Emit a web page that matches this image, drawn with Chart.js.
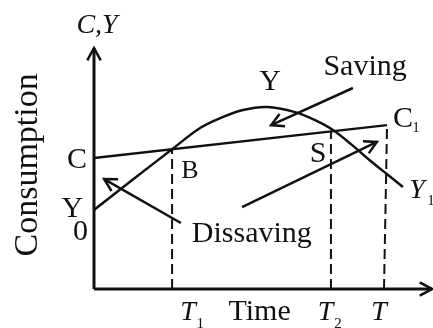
<!DOCTYPE html>
<html lang="en">
<head>
<meta charset="UTF-8">
<title>Consumption and income over time</title>
<script src="https://cdn.jsdelivr.net/npm/chart.js"></script>
<style>
  html, body { margin: 0; padding: 0; background: #fff; }
  canvas { display: block; }
</style>
</head>
<body>
<canvas id="lifeChart" width="433" height="328"></canvas>
<script>
// income curve Y (from Y0 up through B, peak, down to Y1)
const incomeCurve = [
  { x: 0, y: 32.8 }, { x: 11.5, y: 45.4 }, { x: 23.1, y: 58.0 }, { x: 31.4, y: 66.8 },
  { x: 38.2, y: 71.4 }, { x: 44.1, y: 74.3 }, { x: 51.2, y: 75.5 }, { x: 59.5, y: 73.4 },
  { x: 65.4, y: 70.1 }, { x: 70.7, y: 66.0 }, { x: 76.3, y: 59.8 }, { x: 82.2, y: 52.7 },
  { x: 87.0, y: 47.3 }, { x: 91.4, y: 42.3 }
];
// consumption line C -> C1
const consumptionLine = [{ x: 0, y: 54.4 }, { x: 86.7, y: 68.0 }];
// dashed verticals at T1, T2, T
const dropT1 = [{ x: 23.1, y: 0 }, { x: 23.1, y: 58.0 }];
const dropT2 = [{ x: 70.1, y: 0 }, { x: 70.1, y: 65.4 }];
const dropT = [{ x: 85.8, y: 0 }, { x: 86.7, y: 68.0 }];
// arrows: tail then head
const savingArrow = [{ x: 76.6, y: 83.4 }, { x: 52.4, y: 68.0 }];
const dissavingArrow1 = [{ x: 25.7, y: 27.4 }, { x: 3.0, y: 45.6 }];
const dissavingArrow2 = [{ x: 43.8, y: 34.0 }, { x: 83.7, y: 61.0 }];

// text labels at data positions
const plainLabels = [
  { text: 'C', x: -5.0, y: 50.2 },
  { text: 'Y', x: 52.1, y: 82.6 },
  { text: 'Saving', x: 80.2, y: 88.8 },
  { text: 'C', x: 91.4, y: 67.2 },
  { text: 'S', x: 66.3, y: 52.7 },
  { text: 'Y', x: -6.4, y: 29.9 },
  { text: '0', x: -4.0, y: 20.3 },
  { text: 'Dissaving', x: 46.7, y: 19.5 },
  { text: 'Time', x: 49.0, y: -12.9 }
];
const italicLabels = [
  { text: 'C,Y', x: 0.9, y: 106.2 },
  { text: 'Y', x: 95.6, y: 37.8 },
  { text: 'T', x: 27.8, y: -12.9 },
  { text: 'T', x: 68.5, y: -12.9 },
  { text: 'T', x: 84.3, y: -12.9 }
];
const subLabels = [
  { text: '1', x: 95.3, y: 65.1 },
  { text: '1', x: 99.7, y: 34.9 },
  { text: '1', x: 31.4, y: -16.2 },
  { text: '2', x: 72.2, y: -16.2 }
];
const smallLabel = { text: 'B', x: 28.4, y: 46.1 };
const axisTitle = { text: 'Consumption', x: -16.9, y: 51.5 };

const serif = '"Liberation Serif", "Times New Roman", serif';

function seg(data, dashed) {
  return {
    data: data,
    borderColor: '#111',
    borderWidth: dashed ? 2 : 2.5,
    borderDash: dashed ? [10, 5] : [],
    pointRadius: 0,
    tension: 0,
    fill: false
  };
}

function head(ctx, x1, y1, x2, y2, len) {
  const a = Math.atan2(y2 - y1, x2 - x1);
  const w = 0.5;
  ctx.beginPath();
  ctx.moveTo(x2 - len * Math.cos(a - w), y2 - len * Math.sin(a - w));
  ctx.lineTo(x2, y2);
  ctx.lineTo(x2 - len * Math.cos(a + w), y2 - len * Math.sin(a + w));
  ctx.stroke();
}

const drawingPlugin = {
  id: 'drawing',
  afterDatasetsDraw(chart) {
    const ctx = chart.ctx;
    const xs = chart.scales.x, ys = chart.scales.y;
    const px = v => xs.getPixelForValue(v);
    const py = v => ys.getPixelForValue(v);
    ctx.save();
    ctx.strokeStyle = '#111';
    ctx.fillStyle = '#111';
    ctx.lineCap = 'butt';
    ctx.lineJoin = 'miter';

    // axes
    ctx.lineWidth = 3;
    ctx.beginPath();
    ctx.moveTo(px(0), py(0));
    ctx.lineTo(px(0), py(100));
    ctx.moveTo(px(0), py(0));
    ctx.lineTo(px(100), py(0));
    ctx.stroke();
    ctx.lineWidth = 2.5;
    head(ctx, px(0), py(0), px(0), py(100), 14);
    head(ctx, px(0), py(0), px(100), py(0), 14);

    // arrowheads
    [savingArrow, dissavingArrow1, dissavingArrow2].forEach(a => {
      head(ctx, px(a[0].x), py(a[0].y), px(a[1].x), py(a[1].y), 14);
    });

    // labels
    ctx.textAlign = 'center';
    ctx.textBaseline = 'alphabetic';
    ctx.font = '30px ' + serif;
    plainLabels.forEach(l => ctx.fillText(l.text, px(l.x), py(l.y)));
    ctx.font = 'italic 28px ' + serif;
    italicLabels.forEach(l => ctx.fillText(l.text, px(l.x), py(l.y)));
    ctx.font = '15px ' + serif;
    subLabels.forEach(l => ctx.fillText(l.text, px(l.x), py(l.y)));
    ctx.font = '26px ' + serif;
    ctx.fillText(smallLabel.text, px(smallLabel.x), py(smallLabel.y));

    ctx.translate(px(axisTitle.x), py(axisTitle.y));
    ctx.rotate(-Math.PI / 2);
    ctx.font = '34px ' + serif;
    ctx.fillText(axisTitle.text, 0, 0);
    ctx.restore();
  }
};

new Chart(document.getElementById('lifeChart'), {
  type: 'line',
  data: {
    datasets: [
      Object.assign(seg(incomeCurve, false), { tension: 0.35 }),
      seg(consumptionLine, false),
      seg(dropT1, true),
      seg(dropT2, true),
      seg(dropT, true),
      seg(savingArrow, false),
      seg(dissavingArrow1, false),
      seg(dissavingArrow2, false)
    ]
  },
  options: {
    responsive: false,
    animation: false,
    layout: { padding: { left: 94, right: 1, top: 48, bottom: 39 } },
    plugins: { legend: { display: false }, tooltip: { enabled: false } },
    scales: {
      x: { type: 'linear', min: 0, max: 100, display: false },
      y: { type: 'linear', min: 0, max: 100, display: false }
    }
  },
  plugins: [drawingPlugin]
});
</script>
</body>
</html>
